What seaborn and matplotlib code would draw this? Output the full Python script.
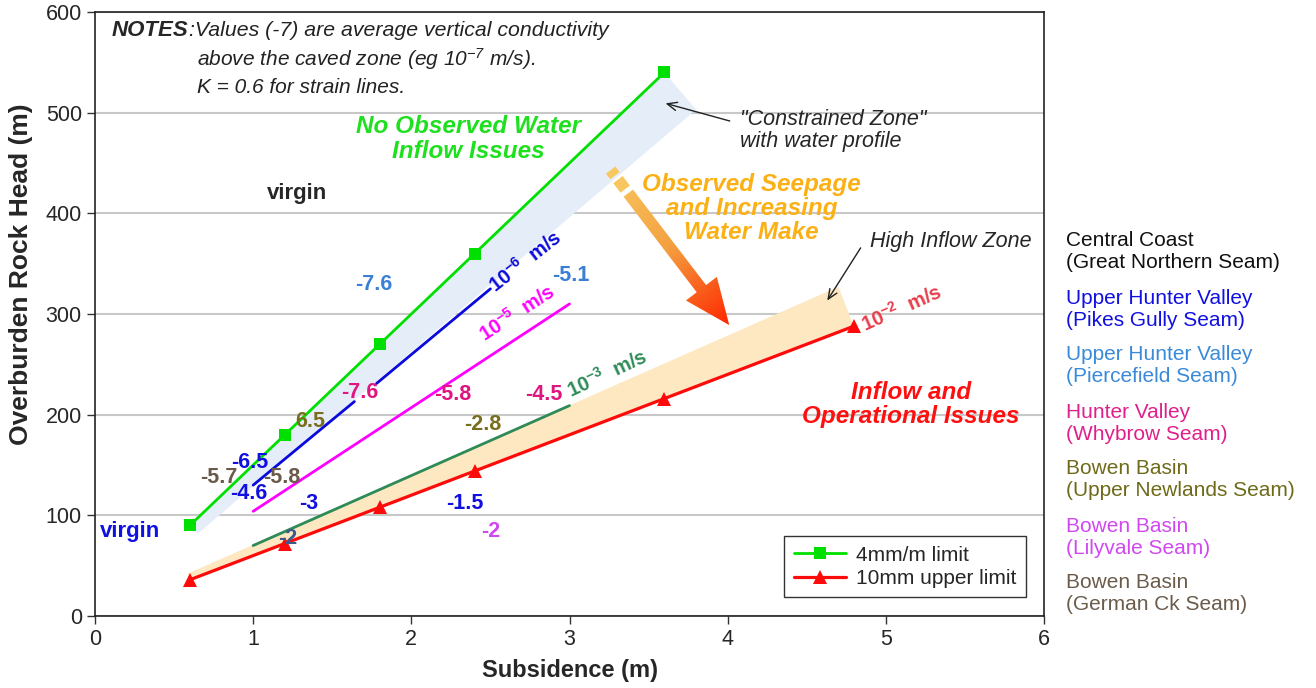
import numpy as np
import pandas as pd
import matplotlib
matplotlib.use("Agg")
import matplotlib.pyplot as plt
import seaborn as sns
from matplotlib.patches import FancyArrowPatch, Polygon
from matplotlib.colors import LinearSegmentedColormap

# strain limit lines (subsidence m, overburden rock head m)
subs_4mm = [0.6, 1.2, 1.8, 2.4, 3.6]
head_4mm = [90, 180, 270, 360, 540]
subs_10mm = [0.6, 1.2, 1.8, 2.4, 3.6, 4.8]
head_10mm = [36, 72, 108, 144, 216, 288]

# conductivity lines
k6_low_x, k6_low_y = [1.0, 1.64], [130, 213]
k6_up_x, k6_up_y = [1.78, 2.5], [231, 325]
k5_x, k5_y = [1.0, 3.0], [104, 310]
k3_x, k3_y = [1.0, 3.0], [70, 209]

# zones
constrained_x = [0.6, 3.6, 3.8, 0.65]
constrained_y = [90, 540, 503, 82]
inflow_x = [0.6, 0.585, 4.70, 4.78, 4.8]
inflow_y = [36, 42, 327, 295, 288]

# site values (text, x, y, colour)
site_values = [
    ("-7.6", 1.76, 329, "#3a7fd5"),
    ("-5.1", 3.01, 338, "#3a7fd5"),
    ("-7.6", 1.675, 222, "#e0157f"),
    ("-5.8", 2.26, 220, "#e0157f"),
    ("-4.5", 2.84, 220, "#e0157f"),
    ("6.5", 1.36, 193, "#7a6e1e"),
    ("-2.8", 2.45, 190, "#7a6e1e"),
    ("-6.5", 0.98, 152, "#1010e0"),
    ("-5.7", 0.78, 138, "#6b5a4a"),
    ("-5.8", 1.18, 138, "#6b5a4a"),
    ("-4.6", 0.97, 122, "#1010e0"),
    ("-3", 1.35, 112, "#1010e0"),
    ("-1.5", 2.34, 112, "#1010e0"),
    ("-2", 1.22, 77, "#3c5a8c"),
    ("-2", 2.5, 84, "#d048f0"),
]

# conductivity line labels (exponent, x, y, angle, colour)
k_labels = [
    ("-6", 2.72, 352, 38, "#0a0adc"),
    ("-5", 2.67, 301, 33, "#ff00ff"),
    ("-3", 3.24, 241, 25, "#2e8b57"),
    ("-2", 5.10, 306, 24, "#e83c4c"),
]

regions = [
    ("Central Coast\n(Great Northern Seam)", "#111111"),
    ("Upper Hunter Valley\n(Pikes Gully Seam)", "#1010e0"),
    ("Upper Hunter Valley\n(Piercefield Seam)", "#3a8ad8"),
    ("Hunter Valley\n(Whybrow Seam)", "#e0208a"),
    ("Bowen Basin\n(Upper Newlands Seam)", "#6e6a1a"),
    ("Bowen Basin\n(Lilyvale Seam)", "#d048f0"),
    ("Bowen Basin\n(German Ck Seam)", "#6b5b4b"),
]

sns.set_style("ticks")
plt.rcParams['font.family'] = ['Liberation Sans', 'DejaVu Sans']
plt.rcParams['mathtext.default'] = 'regular'

fig = plt.figure(figsize=(13.16, 6.88), dpi=100)
ax = fig.add_axes([95 / 1316, 1 - 616 / 688, (1044 - 95) / 1316, (616 - 12) / 688])

ax.add_patch(Polygon(list(zip(constrained_x, constrained_y)), closed=True,
                     facecolor="#e5edf8", edgecolor="none", zorder=1))
ax.add_patch(Polygon(list(zip(inflow_x, inflow_y)), closed=True,
                     facecolor="#fde8c2", edgecolor="none", zorder=1))

ax.plot(k6_low_x, k6_low_y, color="#0a0adc", lw=2, zorder=2)
ax.plot(k6_up_x, k6_up_y, color="#0a0adc", lw=2, zorder=2)
ax.plot(k5_x, k5_y, color="#ff00ff", lw=2, zorder=2)
ax.plot(k3_x, k3_y, color="#2e8b57", lw=2, zorder=2)

df4 = pd.DataFrame({"x": subs_4mm, "y": head_4mm})
df10 = pd.DataFrame({"x": subs_10mm, "y": head_10mm})
sns.lineplot(data=df4, x="x", y="y", ax=ax, color="#00e000", lw=2,
             marker="s", markersize=8, markeredgewidth=0, label="4mm/m limit", zorder=3)
sns.lineplot(data=df10, x="x", y="y", ax=ax, color="#ff0a0a", lw=2.3,
             marker="^", markersize=10, markeredgewidth=0, label="10mm upper limit", zorder=3)

ax.set_xlim(0, 6)
ax.set_ylim(0, 600)
ax.set_xticks(range(0, 7))
ax.set_yticks(range(0, 601, 100))
ax.yaxis.grid(True, color="#c8c8c8", lw=1.5)
ax.xaxis.grid(False)
ax.set_axisbelow(True)
for s in ax.spines.values():
    s.set_color("#222222")
    s.set_linewidth(1.2)
ax.tick_params(labelsize=15.5, length=6, width=1, color="#333333")
ax.set_xlabel("Subsidence (m)", fontsize=17, fontweight="bold", labelpad=6)
ax.set_ylabel("Overburden Rock Head (m)", fontsize=19, fontweight="bold")
ax.yaxis.set_label_coords(-0.065, 0.566)

leg = ax.legend(loc="lower right", bbox_to_anchor=(0.981, 0.031), borderaxespad=0,
                fontsize=15, fancybox=False, edgecolor="#333333", framealpha=1,
                handlelength=2.5, borderpad=0.45, labelspacing=0.2, handletextpad=0.5)
leg.get_frame().set_linewidth(1)

# gradient arrow
cmap = LinearSegmentedColormap.from_list("seep", ["#f8c860", "#f4a040", "#ff2800"])
a0, a1 = np.array([3.26, 443.0]), np.array([4.01, 289.0])
sx, sy = 158.2, 1.007
d = np.array([(a1[0] - a0[0]) * sx, (a1[1] - a0[1]) * sy])
L = np.hypot(*d)
def along(t):
    return a0 + (a1 - a0) * t
for t0, t1 in [(0.0, 0.036), (0.062, 0.123)]:
    p, q = along(t0), along(t1)
    ax.plot([p[0], q[0]], [p[1], q[1]], color=cmap(t0 * 0.5), lw=8.5,
            solid_capstyle="butt", zorder=4)
start = along(0.149)
arrow = FancyArrowPatch(tuple(start), tuple(a1),
                        arrowstyle="simple,head_length=3.3,head_width=2.8,tail_width=0.85",
                        mutation_scale=10, shrinkA=0, shrinkB=0, facecolor="none",
                        edgecolor="none", zorder=4)
ax.add_patch(arrow)
gx, gy = np.meshgrid(np.linspace(3.1, 4.2, 200), np.linspace(270, 460, 200))
tt = (((gx - a0[0]) * sx) * d[0] + ((gy - a0[1]) * sy) * d[1]) / L ** 2
im = ax.imshow(tt, extent=[3.1, 4.2, 270, 460], origin="lower", aspect="auto",
               cmap=cmap, vmin=0, vmax=1, zorder=4)
im.set_clip_path(arrow)
ax.set_xlim(0, 6)
ax.set_ylim(0, 600)

# notes
notes = ax.text(0.018, 0.970, "NOTES", transform=ax.transAxes, fontsize=16, fontweight="bold",
                style="italic", va="center", ha="left")
ax.annotate(":Values (-7) are average vertical conductivity", xy=(1, 0.5), xycoords=notes,
            fontsize=15.3, style="italic", va="center", ha="left", color="#222222")
ax.text(0.1075, 0.922, "above the caved zone (eg 10$^{-7}$ m/s).", transform=ax.transAxes,
        fontsize=15, style="italic", va="center", ha="left", color="#222222")
ax.text(0.1075, 0.875, "K = 0.6 for strain lines.", transform=ax.transAxes,
        fontsize=15, style="italic", va="center", ha="left", color="#222222")

ax.text(2.36, 474, "No Observed Water\nInflow Issues", color="#1ee01e", fontsize=17.5,
        fontweight="bold", style="italic", ha="center", va="center", linespacing=1.1)
ax.text(1.28, 420, "virgin", fontsize=16, fontweight="bold", ha="center", va="center")
ax.text(0.22, 84, "virgin", fontsize=16, fontweight="bold", color="#1010e0", ha="center", va="center")
ax.text(4.15, 405, "Observed Seepage\nand Increasing\nWater Make", color="#fbb116", fontsize=17.5,
        fontweight="bold", style="italic", ha="center", va="center", linespacing=1.05)
ax.text(5.16, 210, "Inflow and\nOperational Issues", color="#ff1010", fontsize=17.5,
        fontweight="bold", style="italic", ha="center", va="center", linespacing=1.1)

for ex, x, y, ang, c in k_labels:
    ax.text(x, y, "10$^{%s}$  m/s" % ex, color=c, fontsize=14.5, fontweight="bold",
            rotation=ang, ha="center", va="center", rotation_mode="anchor")

for txt, x, y, c in site_values:
    ax.text(x, y, txt, color=c, fontsize=15.5, fontweight="bold", ha="center", va="center", zorder=5)

ax.text(4.08, 482, '"Constrained Zone"\nwith water profile', fontsize=15.5, style="italic",
        ha="left", va="center", linespacing=1.05)
ax.annotate("", xy=(3.59, 510), xytext=(4.03, 491),
            arrowprops=dict(arrowstyle="->,head_length=0.7,head_width=0.3", lw=1, color="#222222"))
ax.text(4.9, 372, "High Inflow Zone", fontsize=15.5, style="italic", ha="left", va="center")
ax.annotate("", xy=(4.62, 311), xytext=(4.85, 368),
            arrowprops=dict(arrowstyle="->,head_length=0.7,head_width=0.3", lw=1, color="#222222"))

# region key on the right
ys = [251, 309, 366, 423, 480, 537, 593]
for (txt, c), yp in zip(regions, ys):
    fig.text(1066 / 1316, 1 - yp / 688, txt, color=c, fontsize=15, ha="left", va="center",
             linespacing=1.2)

fig.savefig("out.png", dpi=100)
